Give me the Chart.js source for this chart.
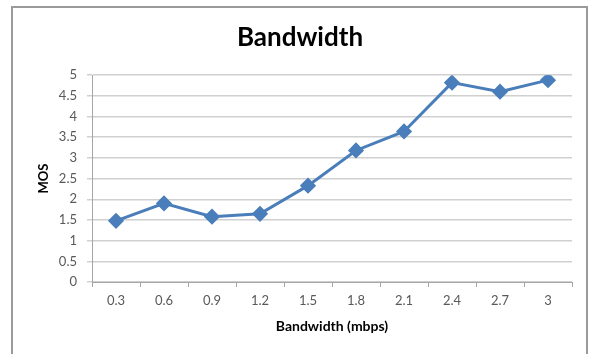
<!DOCTYPE html>
<html>
<head>
<meta charset="utf-8">
<script src="https://cdn.jsdelivr.net/npm/chart.js@4/dist/chart.umd.min.js"></script>
<style>
  html, body { margin: 0; padding: 0; background: #fff; }
  #wrap { width: 590px; height: 354px; position: relative; }
</style>
</head>
<body>
<div id="wrap"><canvas id="c" width="590" height="354"></canvas></div>
<script>
// Bandwidth (mbps) categories and the measured MOS for each
const bandwidthLabels = ['0.3', '0.6', '0.9', '1.2', '1.5', '1.8', '2.1', '2.4', '2.7', '3'];
const mosValues = [1.48, 1.90, 1.58, 1.65, 2.33, 3.18, 3.64, 4.82, 4.60, 4.88];

const chartTitle = 'Bandwidth';
const xAxisTitle = 'Bandwidth (mbps)';
const yAxisTitle = 'MOS';

// Outer frame around the whole chart
const framePlugin = {
  id: 'frame',
  beforeDraw(chart) {
    const ctx = chart.ctx;
    ctx.save();
    ctx.fillStyle = '#ffffff';
    ctx.fillRect(0, 0, chart.width, chart.height);
    ctx.strokeStyle = '#9a9a9a';
    ctx.lineWidth = 2;
    ctx.strokeRect(12, 7, 575, 360);
    ctx.restore();
  }
};

const font = 'Lato, "Open Sans", sans-serif';

new Chart(document.getElementById('c'), {
  type: 'line',
  data: {
    labels: bandwidthLabels,
    datasets: [{
      data: mosValues,
      borderColor: '#4a7ebb',
      backgroundColor: '#4a7ebb',
      borderWidth: 3,
      pointStyle: 'rectRot',
      pointRadius: 6,
      pointHoverRadius: 6,
      pointBackgroundColor: '#4a7ebb',
      pointBorderColor: '#4a7ebb',
      tension: 0
    }]
  },
  options: {
    responsive: false,
    animation: false,
    events: [],
    layout: { padding: { left: 28, right: 18, top: 0, bottom: 0 } },
    plugins: {
      legend: { display: false },
      tooltip: { enabled: false },
      title: {
        display: true,
        text: chartTitle,
        color: '#000000',
        font: { family: font, size: 26, weight: 'bold' },
        padding: { top: 22, bottom: 22 }
      }
    },
    scales: {
      x: {
        offset: true,
        grid: {
          offset: true,
          drawOnChartArea: false,
          drawTicks: true,
          tickLength: 5,
          color: '#a6a6a6'
        },
        border: { color: '#a6a6a6', width: 1 },
        ticks: {
          color: '#595959',
          font: { family: font, size: 13 },
          padding: 6,
          maxRotation: 0
        },
        title: {
          display: true,
          text: xAxisTitle,
          color: '#000000',
          font: { family: font, size: 14, weight: 'bold' },
          padding: { top: 6, bottom: 19 }
        },
        afterFit(scale) { scale.height = 72; }
      },
      y: {
        min: 0,
        max: 5,
        grid: {
          color: '#d0d0d0',
          lineWidth: 1.5,
          drawTicks: true,
          tickLength: 5
        },
        border: { color: '#a6a6a6', width: 1 },
        ticks: {
          stepSize: 0.5,
          color: '#595959',
          font: { family: font, size: 13 },
          padding: 10,
          callback: (v) => String(v)
        },
        title: {
          display: true,
          text: yAxisTitle,
          color: '#000000',
          font: { family: font, size: 13, weight: 'bold' },
          padding: { top: 8, bottom: 0 }
        },
        afterFit(scale) { scale.width = 64; }
      }
    }
  },
  plugins: [framePlugin]
});
</script>
</body>
</html>
